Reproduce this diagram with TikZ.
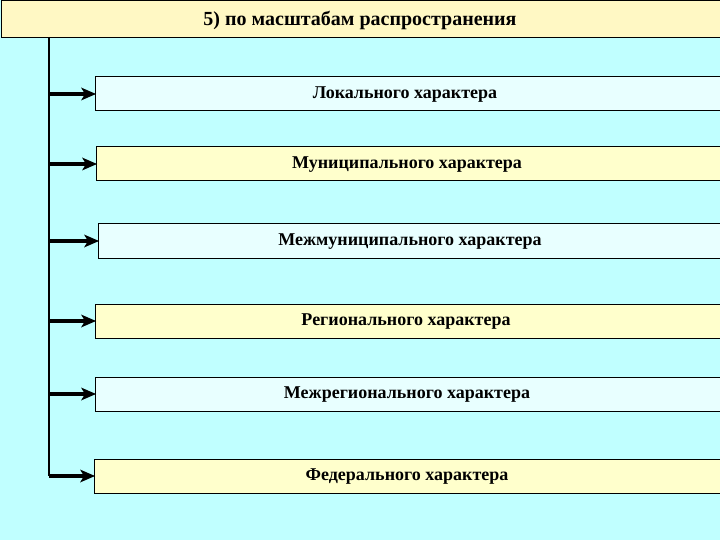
\documentclass[tikz,border=0pt]{standalone}
\usepackage{fontspec}
\setmainfont{Liberation Serif}
\usetikzlibrary{arrows.meta}
\definecolor{bgc}{HTML}{C0FFFF}
\definecolor{paleY}{HTML}{FFFFCC}
\definecolor{paleC}{HTML}{E8FFFF}
\definecolor{titleY}{HTML}{FFF8C4}
\tikzset{
  itembox/.style={draw=black, line width=1pt, minimum height=34pt, anchor=west, inner sep=0pt},
  lbl/.style={font=\bfseries\fontsize{18}{21}\selectfont},
  conn/.style={line width=3.5pt},
  tipshape/.style={fill=black},
}
\begin{document}
\begin{tikzpicture}[x=1pt,y=-1pt]
\useasboundingbox (0,0) rectangle (720,540);
\clip (0,0) rectangle (720,540);
\fill[bgc] (0,0) rectangle (720,540);
% title
\node[draw=black, line width=1pt, fill=titleY, anchor=north west, minimum width=740pt, minimum height=37pt, inner sep=0pt] (title) at (0.5,0.5) {};
\node[lbl, font=\bfseries\fontsize{20}{24}\selectfont] (tt) at (360,20) {5) по масштабам распространения};
% boxes
\node[itembox, fill=paleC, minimum width=640pt] (b1) at (95,94) {};
\node[itembox, fill=paleY, minimum width=640pt] (b2) at (96,164) {};
\node[itembox, fill=paleC, minimum width=640pt] (b3) at (98,241) {};
\node[itembox, fill=paleY, minimum width=640pt] (b4) at (95,321) {};
\node[itembox, fill=paleC, minimum width=640pt] (b5) at (95,394) {};
\node[itembox, fill=paleY, minimum width=640pt] (b6) at (94,476) {};
\node[lbl] (t1) at (405,95) {Локального характера};
\node[lbl] (t2) at (407,165) {Муниципального характера};
\node[lbl] (t3) at (410,242) {Межмуниципального характера};
\node[lbl] (t4) at (406,322) {Регионального характера};
\node[lbl] (t5) at (407,395) {Межрегионального характера};
\node[lbl] (t6) at (407,477) {Федерального характера};
% connectors
\coordinate (top) at (49,37);
\coordinate (bot) at (49,476);
\draw[line width=2pt] (top) -- (bot);
\foreach \b in {b1,b2,b3,b4,b5,b6}{
  \draw[conn] (top |- \b.west) -- ([xshift=-8pt]\b.west);
  \fill[tipshape] ([xshift=1pt]\b.west) -- ++(-15,-6.5) -- ++(4,6.5) -- ++(-4,6.5) -- cycle;
}
\end{tikzpicture}
\end{document}
